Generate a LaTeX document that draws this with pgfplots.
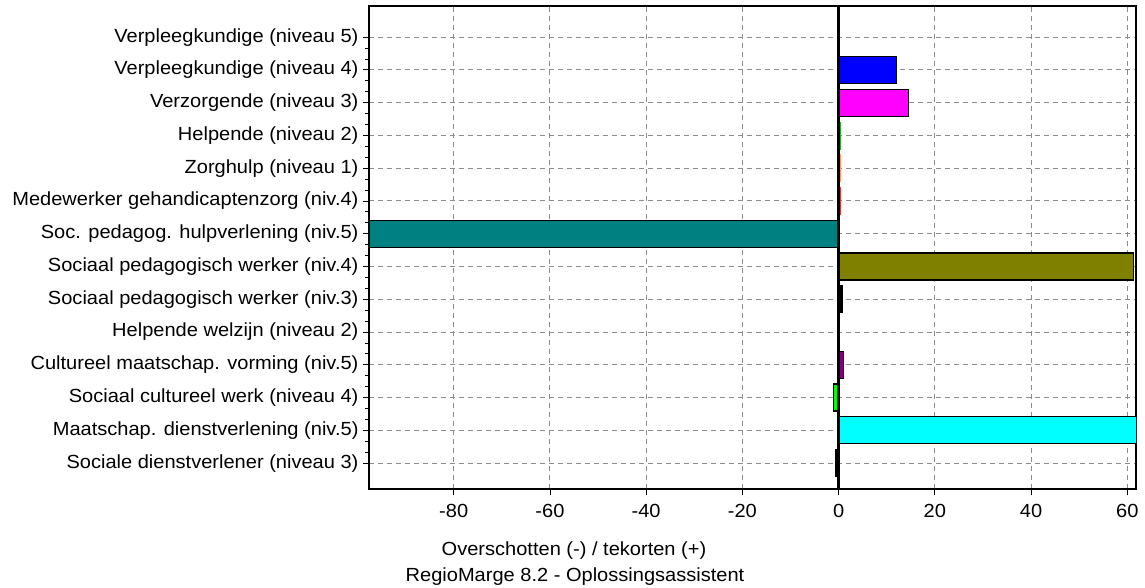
\documentclass[border=0pt]{standalone}
\usepackage{fontspec}
\setmainfont[FakeStretch=1.055]{Liberation Sans}
\usepackage{pgfplots}
\pgfplotsset{compat=1.18}
\definecolor{cblue}{RGB}{0,0,255}
\definecolor{cmag}{RGB}{255,0,255}
\definecolor{cgreen}{RGB}{40,170,40}
\definecolor{csalmon}{RGB}{255,150,100}
\definecolor{cbrown}{RGB}{200,60,60}
\definecolor{cteal}{RGB}{0,128,128}
\definecolor{colive}{RGB}{128,128,0}
\definecolor{cnavy}{RGB}{60,60,220}
\definecolor{cpurple}{RGB}{128,0,128}
\definecolor{clime}{RGB}{0,255,0}
\definecolor{ccyan}{RGB}{0,255,255}
\definecolor{gridgray}{RGB}{140,140,140}
\begin{document}
\begin{tikzpicture}[font=\fontsize{19}{23}\selectfont]
\begin{axis}[
  scale only axis, width=767pt, height=483pt,
  at={(0,0)}, anchor=south west,
  xmin=-97.6, xmax=61.8, ymin=-0.79, ymax=13.95,
  xbar, bar width=27pt, bar shift=0pt,
  xtick={-80,-60,-40,-20,20,40,60},
  xticklabels={-80,-60,-40,-20,20,40,60},
  extra x ticks={0}, extra x tick labels={0},
  extra x tick style={grid=none},
  minor x tick num=3,
  ytick={0,1,...,13},
  yticklabels={Sociale dienstverlener (niveau 3),
    Maatschap. dienstverlening (niv.5),
    Sociaal cultureel werk (niveau 4),
    Cultureel maatschap. vorming (niv.5),
    Helpende welzijn (niveau 2),
    Sociaal pedagogisch werker (niv.3),
    Sociaal pedagogisch werker (niv.4),
    Soc. pedagog. hulpverlening (niv.5),
    Medewerker gehandicaptenzorg (niv.4),
    Zorghulp (niveau 1),
    Helpende (niveau 2),
    Verzorgende (niveau 3),
    Verpleegkundige (niveau 4),
    Verpleegkundige (niveau 5)},
  minor y tick num=2,
  xtick pos=bottom, ytick pos=left,
  tick align=outside,
  major tick length=6pt, minor tick length=4pt,
  tick style={black, line width=0.8pt},
  grid=major,
  major grid style={gridgray, line width=1pt, dash pattern=on 5pt off 4pt},
  axis line style={black, line width=1.2pt},
  tick label style={font=\fontsize{19}{23}\selectfont, text=black},
  xticklabel style={yshift=-6pt},
  yticklabel style={xshift=-1pt},
  clip=true,
]
\addplot[fill=cblue, draw=black, line width=1.2pt] coordinates {(12,12)};
\addplot[fill=cmag, draw=black, line width=1.2pt] coordinates {(14.6,11)};
\addplot[fill=cgreen, draw=cgreen, line width=0.6pt] coordinates {(0.3,10)};
\addplot[fill=csalmon, draw=csalmon, line width=0.6pt] coordinates {(0.3,9)};
\addplot[fill=cbrown, draw=cbrown, line width=0.6pt] coordinates {(0.3,8)};
\addplot[fill=cteal, draw=black, line width=1.2pt] coordinates {(-100,7)};
\addplot[fill=colive, draw=black, line width=1.2pt] coordinates {(61.2,6)};
\addplot[fill=black, draw=black, line width=0.6pt] coordinates {(0.8,5)};
\addplot[fill=cnavy, draw=cnavy, line width=0.6pt] coordinates {(0.2,4)};
\addplot[fill=cpurple, draw=black, line width=1.2pt] coordinates {(1.0,3)};
\addplot[fill=clime, draw=black, line width=1.2pt] coordinates {(-1.0,2)};
\addplot[fill=ccyan, draw=black, line width=1.2pt] coordinates {(63,1)};
\addplot[fill=black, draw=black, line width=0.6pt] coordinates {(-0.7,0)};
\draw[black, line width=2.6pt] ([yshift=-9pt]axis cs:0,-0.79) -- (axis cs:0,13.95);
\draw[black, line width=2.6pt] (rel axis cs:0,1) -- (rel axis cs:0,0) -- (rel axis cs:1,0);
\end{axis}
\node[font=\fontsize{19}{23}\selectfont] at (205pt,-62pt) {Overschotten (-) / tekorten (+)};
\node[font=\fontsize{19}{23}\selectfont] at (206pt,-88pt) {RegioMarge 8.2 - Oplossingsassistent};
\pgfresetboundingbox
\path (-369pt,-98pt) rectangle (776pt,489pt);
\end{tikzpicture}
\end{document}
